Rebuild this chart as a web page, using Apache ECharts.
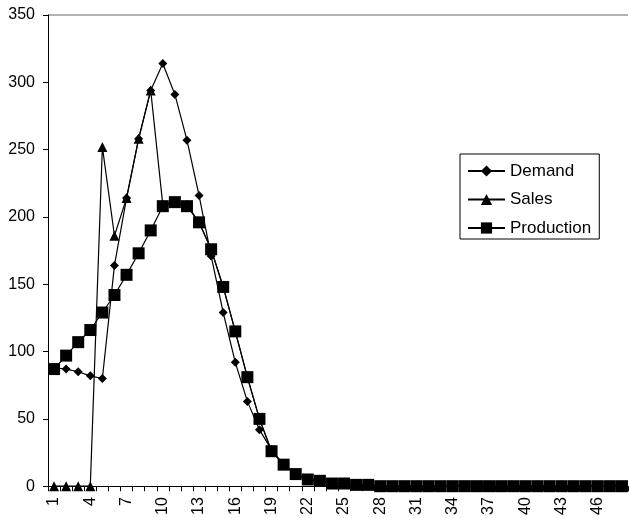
<!DOCTYPE html>
<html>
<head>
<meta charset="utf-8">
<script src="https://cdn.jsdelivr.net/npm/echarts@6/dist/echarts.min.js"></script>
<style>html,body{margin:0;padding:0;background:#fff}#c{width:629px;height:518px}</style>
</head>
<body>
<div id="c"></div>
<script>
var categories = [];
for (var i = 1; i <= 48; i++) categories.push(String(i));

var demand = [88, 87, 85, 82, 80, 164, 214, 258, 294, 314, 291, 257, 216, 171, 129, 92, 63, 42, 27, 16, 9, 5, 4, 2, 2, 1, 1,
  0, 0, 0, 0, 0, 0, 0, 0, 0, 0, 0, 0, 0, 0, 0, 0, 0, 0, 0, 0, 0];
var sales = [0, 0, 0, 0, 252, 186, 214, 258, 294, 209, 211, 209, 196, 176, 148, 115, 81, 50, 26, 16, 9, 5, 4, 2, 2, 1, 1,
  0, 0, 0, 0, 0, 0, 0, 0, 0, 0, 0, 0, 0, 0, 0, 0, 0, 0, 0, 0, 0];
var production = [87, 97, 107, 116, 129, 142, 157, 173, 190, 208, 211, 208, 196, 176, 148, 115, 81, 50, 26, 16, 9, 5, 4, 2, 2, 1, 1,
  0, 0, 0, 0, 0, 0, 0, 0, 0, 0, 0, 0, 0, 0, 0, 0, 0, 0, 0, 0, 0];
var seriesNames = ['Demand', 'Sales', 'Production'];

var font = '"Liberation Sans", Arial, sans-serif';
var chart = echarts.init(document.getElementById('c'), null, {renderer: 'canvas'});
function mk(name, data, symbol, size) {
  return {
    name: name, type: 'line', data: data, symbol: symbol, symbolSize: size,
    showAllSymbol: true, animation: false,
    lineStyle: {color: '#000', width: 1.2},
    itemStyle: {color: '#000'}
  };
}
chart.setOption({
  animation: false,
  backgroundColor: '#fff',
  grid: {left: 48, right: 1, top: 15, bottom: 31, containLabel: false},
  legend: {
    orient: 'vertical', left: 460, top: 154,
    borderColor: '#000', borderWidth: 1, backgroundColor: '#fff',
    padding: [8.5, 8, 2.5, 7], itemGap: 11.5, itemWidth: 37, itemHeight: 14,
    textStyle: {fontFamily: font, fontSize: 17, color: '#000'},
    data: seriesNames
  },
  xAxis: {
    type: 'category', data: categories, boundaryGap: true,
    axisLine: {lineStyle: {color: '#000', width: 1}},
    axisTick: {show: true, interval: 0, length: 5, lineStyle: {color: '#000'}},
    axisLabel: {interval: 2, rotate: 90, margin: 11, fontFamily: font, fontSize: 16, color: '#000'},
    splitLine: {show: false}
  },
  yAxis: {
    type: 'value', min: 0, max: 350, interval: 50,
    axisLine: {show: true, lineStyle: {color: '#000', width: 1}},
    axisTick: {show: true, length: 5, lineStyle: {color: '#000'}},
    axisLabel: {margin: 13, padding: [6, 0, 0, 0], fontFamily: font, fontSize: 16, color: '#000'},
    splitLine: {show: true, lineStyle: {color: ['rgba(0,0,0,0)', 'rgba(0,0,0,0)', 'rgba(0,0,0,0)', 'rgba(0,0,0,0)', 'rgba(0,0,0,0)', 'rgba(0,0,0,0)', 'rgba(0,0,0,0)', '#9a9a9a'], width: 1.5}}
  },
  series: [
    mk('Demand', demand, 'diamond', 9),
    mk('Sales', sales, 'triangle', 10),
    mk('Production', production, 'rect', 12)
  ]
});
</script>
</body>
</html>
